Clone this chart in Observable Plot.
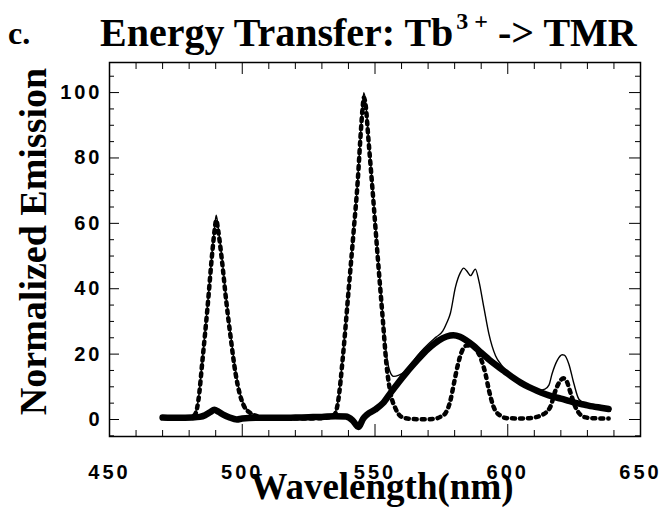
<!DOCTYPE html>
<html><head><meta charset="utf-8">
<script src="https://cdn.jsdelivr.net/npm/d3@7"></script>
<script src="https://cdn.jsdelivr.net/npm/@observablehq/plot@0.6"></script>
<style>
body{margin:0;background:#fff;}
#chart svg{display:block;}
#chart g[aria-label="x-axis tick label"], #chart g[aria-label="y-axis tick label"]{letter-spacing:3px;}
</style></head><body><div id="chart"></div>
<script>
// [wavelength nm, normalized emission]
const tbOnly = [[470,0.5],[474,0.4],[478,0.5],[481,0.8],[482.5,2],[483.5,6],[485,18],[487,35],[488.7,51],[489.6,58],[490.2,61],[490.9,58],[492.3,49],[494,36],[495.5,26],[497.5,14],[499,8],[500.6,4.2],[503,2],[505.6,1],[510,0.5],[515,0.3],[520,0.3],[525,0.3],[530,0.4],[533,0.7],[535,1.8],[536,5],[538,20],[540,39],[542,58],[543.5,73],[544.5,86],[545.3,95],[545.8,98.5],[546.5,96],[547.5,86],[549,71],[551,50],[553,30],[554.3,17],[556,7.5],[557.7,3.4],[560,0.8],[563,0.2],[566,0.1],[570,0.1],[573,0.3],[575,1],[576.6,2],[578.4,5.8],[579.7,10.9],[581,16],[582.8,21],[584.5,22.6],[586.5,22.6],[588,21.5],[589.7,19],[591.6,14],[592.9,9],[594.7,3.8],[597,1.3],[600,0.4],[605,0.3],[609,0.5],[611,0.8],[613,1.4],[614.5,2.2],[616,3.8],[618,8.9],[619.5,11.5],[621,12.6],[622.3,11.5],[623.6,8.3],[625.5,3.8],[627,1.8],[628.6,0.8],[632,0.4],[635,0.3],[638,0.3]];
const totalEmission = [[470,0.6],[476,0.5],[481,0.9],[482.5,2.4],[483.5,6.5],[485,18.5],[487,35.5],[488.7,51.5],[489.6,59],[490.2,62.5],[490.9,59],[492.3,50],[494,37],[495.5,27],[497.5,15],[499,8.5],[500.6,4.6],[503,2.2],[505.6,1.1],[510,0.6],[520,0.5],[530,0.6],[533,0.9],[535,2.2],[536,5.5],[538,20.5],[540,39.5],[542,58.5],[543.5,73.5],[544.5,86.5],[545.3,96],[545.8,100],[546.5,97],[547.5,87],[549,72],[551,51],[553,31.5],[554.3,20],[555.5,15],[557,13.2],[559,13.6],[561,14.5],[564,17.5],[567,20.5],[570,23],[573,25.2],[575.5,27],[577,29.5],[578.4,32.5],[580.3,40.5],[582.2,45],[583.4,46.3],[584.5,45.5],[586,44],[587.8,46],[589.1,42.5],[591,34.3],[592.9,26.2],[595.4,19.5],[597.5,16.8],[600,14.5],[603,12.6],[606,11],[609,9.8],[612,9],[614,9.3],[615.5,10.5],[616.7,14],[618.6,18],[620.5,19.8],[621.3,19.7],[623,17],[624.9,11],[626.8,6.2],[629,5],[632,4.4],[635,3.9],[638,3.5]];
const tmrEmission = [[470,0.6],[476,0.5],[481,0.6],[484,0.8],[486,1.3],[488,2.3],[489.5,3],[491,2.4],[493,1.4],[495,0.7],[498,0],[500,0.3],[505,0.5],[510,0.5],[515,0.5],[520,0.6],[525,0.7],[530,0.8],[535,1],[539,0.9],[541.5,-0.2],[543.8,-2.3],[545.5,0.2],[547,1.5],[550,3],[553,5],[556,8.3],[559,11.5],[562,14.5],[565,17.3],[568,20],[571,22.3],[574,24.2],[577,25.4],[579.5,25.8],[582,25.3],[584,24.4],[587,22.6],[590,20.4],[593,18.3],[596,16.4],[599,14.6],[602,12.8],[605,11.2],[608,9.9],[611,8.8],[614,7.8],[617,7],[620,6.4],[623,5.7],[626,5],[629,4.5],[632,4],[635,3.6],[638,3.2]];

const xMajorTicks = [450,500,550,600,650];
const xMinorTicks = [460,470,480,490,510,520,530,540,560,570,580,590,610,620,630,640];
const yMajorTicks = [0,20,40,60,80,100];
const yMinorTicks = [-5,5,10,15,25,30,35,45,50,55,65,70,75,85,90,95,105];

const tickFont = "'Liberation Sans', Arial, Helvetica, sans-serif";
const serif = "'Liberation Serif', 'Times New Roman', Times, serif";
const blank = () => "";

const chart = Plot.plot({
  width: 664, height: 508,
  marginLeft: 109, marginRight: 24, marginTop: 62, marginBottom: 72,
  x: {domain: [450, 650]},
  y: {domain: [-5.2, 109.2]},
  style: {background: "white", color: "black"},
  marks: [
    Plot.axisX({anchor: "bottom", ticks: xMinorTicks, tickSize: -6, tickFormat: blank, label: null}),
    Plot.axisX({anchor: "top", ticks: xMinorTicks, tickSize: -6, tickFormat: blank, label: null}),
    Plot.axisX({anchor: "top", ticks: xMajorTicks, tickSize: -11, tickFormat: blank, label: null}),
    Plot.axisX({anchor: "bottom", ticks: xMajorTicks, tickSize: -12, tickPadding: 40, tickFormat: d => String(d),
      fontSize: 20, fontWeight: "bold", fontFamily: tickFont, label: null}),
    Plot.axisY({anchor: "left", ticks: yMinorTicks, tickSize: -5, tickFormat: blank, label: null}),
    Plot.axisY({anchor: "right", ticks: yMinorTicks, tickSize: -6, tickFormat: blank, label: null}),
    Plot.axisY({anchor: "right", ticks: yMajorTicks, tickSize: -12, tickFormat: blank, label: null}),
    Plot.axisY({anchor: "left", ticks: yMajorTicks, tickSize: -10, tickPadding: 17, tickFormat: d => String(d),
      fontSize: 20, fontWeight: "bold", fontFamily: tickFont, label: null}),
    Plot.frame({stroke: "black", strokeWidth: 1.5}),
    Plot.line(tmrEmission, {x: d => d[0], y: d => d[1], stroke: "black", strokeWidth: 6.5, curve: "monotone-x", strokeLinejoin: "round"}),
    Plot.line(tbOnly, {x: d => d[0], y: d => d[1], stroke: "black", strokeWidth: 4.5, strokeDasharray: "3,5", curve: "monotone-x"}),
    Plot.line(totalEmission, {x: d => d[0], y: d => d[1], stroke: "black", strokeWidth: 1.4, curve: "monotone-x"}),
    Plot.text(["Wavelength(nm)"], {frameAnchor: "bottom", dx: 7, dy: 51, lineAnchor: "middle", textAnchor: "middle",
      fontFamily: serif, fontWeight: "bold", fontSize: 37, fill: "black"}),
    Plot.text(["Normalized Emission"], {frameAnchor: "left", rotate: -90, dx: -76, dy: -8, lineAnchor: "middle", textAnchor: "middle",
      fontFamily: serif, fontWeight: "bold", fontSize: 38, fill: "black"})
  ]
});
document.getElementById("chart").appendChild(chart);

const svg = d3.select(chart);
svg.append("text").attr("x", 8).attr("y", 44).attr("text-anchor", "start")
  .attr("font-family", serif).attr("font-weight", "bold").attr("font-size", 32).attr("fill", "black")
  .text("c.");
const title = svg.append("text").attr("x", 100).attr("y", 46).attr("text-anchor", "start")
  .attr("font-family", serif).attr("font-weight", "bold").attr("font-size", 40).attr("fill", "black");
title.append("tspan").text("Energy Transfer: Tb");
title.append("tspan").attr("font-size", 24).attr("dy", -17).attr("dx", 3).text("3 +");
title.append("tspan").attr("dy", 17).text(" -> TMR");
</script>
</body></html>
